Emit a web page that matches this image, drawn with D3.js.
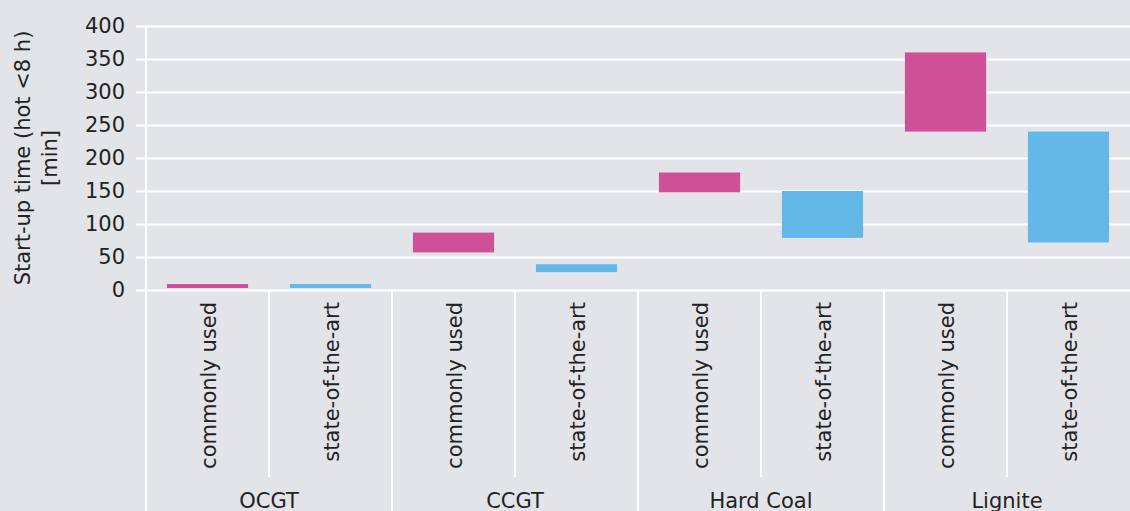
<!DOCTYPE html>
<html lang="en">

<head>
    <meta charset="utf-8">
    <title>Start-up times</title>
    <script src="https://d3js.org/d3.v7.min.js"></script>
    <style type="text/css">
        body { margin: 0; }
        text { font-family: "DejaVu Sans", sans-serif; fill: #222; }
    </style>
</head>

<body>
    <script type="text/javascript">

        // data
        var groups = ["OCGT", "CCGT", "Hard Coal", "Lignite"];
        var kinds = ["commonly used", "state-of-the-art"];
        var lowCommon = [3, 57, 148, 240];
        var highCommon = [9, 87, 178, 360];
        var lowSota = [3, 27, 79, 72];
        var highSota = [9, 39, 150, 240];
        var yTicks = [0, 50, 100, 150, 200, 250, 300, 350, 400];

        var w = 1130,
            h = 511,
            mLeft = 146,
            mTop = 26,
            mBottom = 290,
            fontSize = 21;

        var colors = { "commonly used": "#CE5096", "state-of-the-art": "#63B8E8" };

        var rows = [];
        groups.forEach(function (g, i) {
            rows.push({ group: g, kind: kinds[0], lo: lowCommon[i], hi: highCommon[i] });
            rows.push({ group: g, kind: kinds[1], lo: lowSota[i], hi: highSota[i] });
        });

        var svg = d3.select("body")
            .append("svg")
            .attr("width", w)
            .attr("height", h);

        svg.append("rect")
            .attr("width", w)
            .attr("height", h)
            .attr("fill", "#E3E4E9");

        var yScale = d3.scaleLinear()
            .domain([0, 400])
            .range([mBottom, mTop]);

        var xGroup = d3.scaleBand()
            .domain(groups)
            .range([mLeft, w]);

        var xKind = d3.scaleBand()
            .domain(kinds)
            .range([0, xGroup.bandwidth()]);

        // gridlines + tick labels
        var yAxis = svg.append("g")
            .attr("transform", "translate(" + (mLeft - 10) + ",0)")
            .call(d3.axisLeft(yScale)
                .tickValues(yTicks)
                .tickSize(-(w - mLeft + 10))
                .tickPadding(11));
        yAxis.select(".domain").remove();
        yAxis.selectAll("line")
            .attr("stroke", "#fff")
            .attr("stroke-width", 2);
        yAxis.selectAll("text")
            .attr("font-size", fontSize)
            .attr("font-family", "DejaVu Sans, sans-serif")
            .attr("fill", "#222");

        // vertical separators
        svg.append("line")
            .attr("x1", mLeft).attr("x2", mLeft)
            .attr("y1", mTop).attr("y2", h)
            .attr("stroke", "#fff").attr("stroke-width", 2);

        svg.selectAll(".gsep").data(groups.slice(1))
            .enter()
            .append("line")
            .attr("x1", function (d) { return xGroup(d); })
            .attr("x2", function (d) { return xGroup(d); })
            .attr("y1", mBottom)
            .attr("y2", h)
            .attr("stroke", "#fff").attr("stroke-width", 2);

        svg.selectAll(".ksep").data(groups)
            .enter()
            .append("line")
            .attr("x1", function (d) { return xGroup(d) + xKind(kinds[1]); })
            .attr("x2", function (d) { return xGroup(d) + xKind(kinds[1]); })
            .attr("y1", mBottom)
            .attr("y2", 477)
            .attr("stroke", "#fff").attr("stroke-width", 2);

        // bars
        svg.selectAll(".bar").data(rows)
            .enter()
            .append("rect")
            .attr("x", function (d) {
                return xGroup(d.group) + xKind(d.kind) + xKind.bandwidth() * 0.17;
            })
            .attr("width", xKind.bandwidth() * 0.66)
            .attr("y", function (d) { return yScale(d.hi); })
            .attr("height", function (d) { return yScale(d.lo) - yScale(d.hi); })
            .attr("fill", function (d) { return colors[d.kind]; });

        // kind labels (rotated)
        svg.selectAll(".klabel").data(rows)
            .enter()
            .append("text")
            .text(function (d) { return d.kind; })
            .attr("text-anchor", "end")
            .attr("font-size", fontSize)
            .attr("transform", function (d) {
                var cx = xGroup(d.group) + xKind(d.kind) + xKind.bandwidth() / 2;
                return "translate(" + (cx + 8) + ",302) rotate(-90)";
            });

        // group labels
        svg.selectAll(".glabel").data(groups)
            .enter()
            .append("text")
            .text(function (d) { return d; })
            .attr("text-anchor", "middle")
            .attr("font-size", fontSize)
            .attr("x", function (d) { return xGroup(d) + xGroup.bandwidth() / 2; })
            .attr("y", 508);

        // y title
        var title = svg.append("text")
            .attr("text-anchor", "middle")
            .attr("font-size", fontSize)
            .attr("transform", "translate(30," + (mTop + mBottom) / 2 + ") rotate(-90)");
        title.append("tspan").attr("x", 0).attr("dy", 0).text("Start-up time (hot <8 h)");
        title.append("tspan").attr("x", 0).attr("dy", 27).text("[min]");

    </script>
</body>

</html>
